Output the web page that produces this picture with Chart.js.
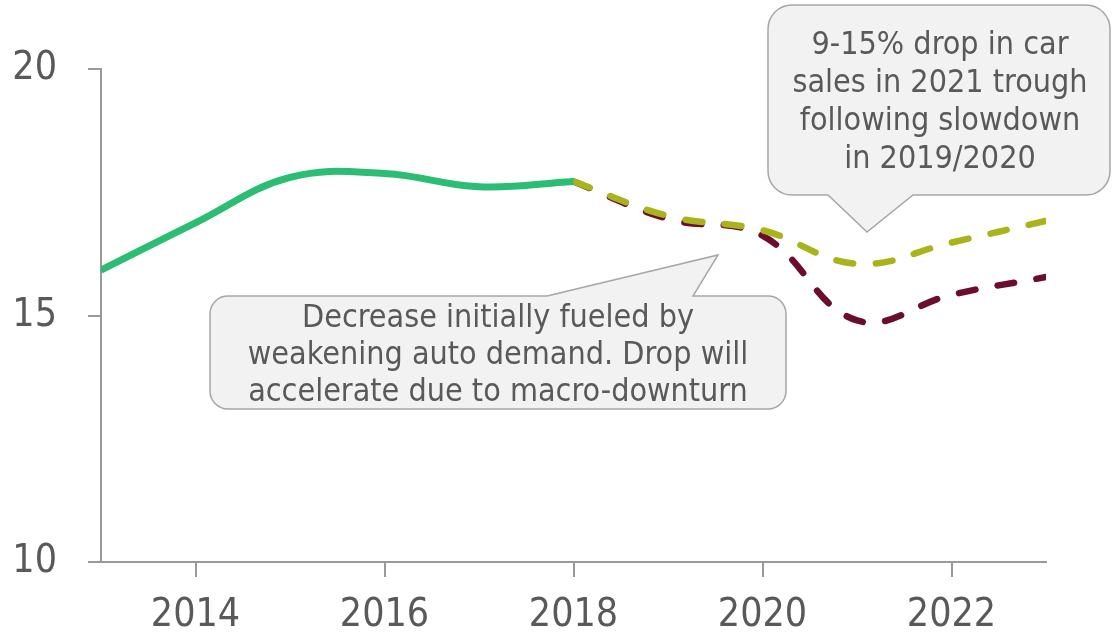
<!DOCTYPE html>
<html>
<head>
<meta charset="utf-8">
<script src="https://cdn.jsdelivr.net/npm/chart.js@4.4.1/dist/chart.umd.min.js"></script>
<style>
  html, body { margin: 0; padding: 0; background: #ffffff; }
  #wrap { width: 1112px; height: 638px; position: relative; }
</style>
</head>
<body>
<div id="wrap"><canvas id="chart" width="1112" height="638"></canvas></div>
<script>
// Car sales, actuals and two forecast scenarios (millions of units)
const actualYears = [2013, 2014, 2015, 2016, 2017, 2018];
const actualSales = [15.92, 16.88, 17.8, 17.88, 17.61, 17.72];

const forecastYears = [2018, 2019, 2020, 2021, 2022, 2023];
const forecastMild = [17.72, 17.02, 16.73, 16.05, 16.48, 16.92];
const forecastSevere = [17.72, 16.96, 16.62, 14.9, 15.42, 15.78];

const xTickYears = [2014, 2016, 2018, 2020, 2022];
const yTickValues = [10, 15, 20];

const calloutTop = ['9-15% drop in car', 'sales in 2021 trough', 'following slowdown', 'in 2019/2020'];
const calloutBottom = ['Decrease initially fueled by', 'weakening auto demand. Drop will', 'accelerate due to macro-downturn'];

const FONT = '"DejaVu Sans Condensed", "DejaVu Sans", sans-serif';
const TEXT = '#595959';
const AXIS = '#999999';

const toPoints = (xs, ys) => xs.map((x, i) => ({ x: x, y: ys[i] }));

// Speech-bubble callouts drawn on top of the chart
const callouts = [
  { lines: calloutTop, box: [768, 5, 1110, 195], r: 24, side: 'bottom', base: [828, 913], tip: [867, 232], cx: 940, firstY: 46, lineH: 38 },
  { lines: calloutBottom, box: [210, 296, 786, 409], r: 18, side: 'top', base: [547, 693], tip: [718, 255], cx: 498, firstY: 319, lineH: 37 }
];

const calloutPlugin = {
  id: 'callouts',
  afterDraw(chart) {
    const ctx = chart.ctx;
    ctx.save();
    callouts.forEach(c => {
      const [l, t, r, b] = c.box;
      const rad = c.r;
      ctx.beginPath();
      ctx.moveTo(l + rad, t);
      if (c.side === 'top') {
        ctx.lineTo(c.base[0], t);
        ctx.lineTo(c.tip[0], c.tip[1]);
        ctx.lineTo(c.base[1], t);
      }
      ctx.lineTo(r - rad, t);
      ctx.arcTo(r, t, r, t + rad, rad);
      ctx.lineTo(r, b - rad);
      ctx.arcTo(r, b, r - rad, b, rad);
      if (c.side === 'bottom') {
        ctx.lineTo(c.base[1], b);
        ctx.lineTo(c.tip[0], c.tip[1]);
        ctx.lineTo(c.base[0], b);
      }
      ctx.lineTo(l + rad, b);
      ctx.arcTo(l, b, l, b - rad, rad);
      ctx.lineTo(l, t + rad);
      ctx.arcTo(l, t, l + rad, t, rad);
      ctx.closePath();
      ctx.fillStyle = '#f2f2f2';
      ctx.fill();
      ctx.lineWidth = 1.5;
      ctx.strokeStyle = '#a6a6a6';
      ctx.stroke();

      ctx.fillStyle = TEXT;
      ctx.font = '32px ' + FONT;
      ctx.textAlign = 'center';
      ctx.textBaseline = 'middle';
      c.lines.forEach((s, i) => ctx.fillText(s, c.cx, c.firstY + i * c.lineH));
    });
    ctx.restore();
  }
};

const dashed = (color, values) => ({
  data: toPoints(forecastYears, values),
  borderColor: color,
  borderWidth: 6.5,
  borderDash: [17, 22.5],
  borderCapStyle: 'round',
  tension: 0.4,
  pointRadius: 0,
  fill: false
});

new Chart(document.getElementById('chart'), {
  type: 'line',
  data: {
    datasets: [
      {
        label: 'Actual',
        data: toPoints(actualYears, actualSales),
        borderColor: '#2bbd73',
        borderWidth: 7,
        tension: 0.4,
        pointRadius: 0,
        fill: false
      },
      Object.assign({ label: 'Mild scenario' }, dashed('#a9b41c', forecastMild)),
      Object.assign({ label: 'Severe scenario' }, dashed('#6b0d2e', forecastSevere))
    ]
  },
  options: {
    responsive: false,
    animation: false,
    layout: { padding: { top: 69, right: 66, left: 0, bottom: 0 } },
    plugins: { legend: { display: false }, tooltip: { enabled: false } },
    scales: {
      x: {
        type: 'linear',
        min: 2013,
        max: 2023,
        afterBuildTicks: s => { s.ticks = xTickYears.map(v => ({ value: v })); },
        afterFit: s => { s.height = 76; },
        grid: { drawOnChartArea: false, drawTicks: true, tickLength: 15, color: AXIS, lineWidth: 2 },
        border: { display: true, color: AXIS, width: 2 },
        ticks: {
          color: TEXT,
          font: { family: FONT, size: 39 },
          padding: 15,
          maxRotation: 0,
          callback: v => String(v)
        }
      },
      y: {
        min: 10,
        max: 20,
        afterBuildTicks: s => { s.ticks = yTickValues.map(v => ({ value: v })); },
        afterFit: s => { s.width = 101; },
        grid: { drawOnChartArea: false, drawTicks: true, tickLength: 13, color: AXIS, lineWidth: 2 },
        border: { display: true, color: AXIS, width: 2 },
        ticks: {
          color: TEXT,
          font: { family: FONT, size: 39 },
          padding: 31
        }
      }
    }
  },
  plugins: [calloutPlugin]
});
</script>
</body>
</html>
